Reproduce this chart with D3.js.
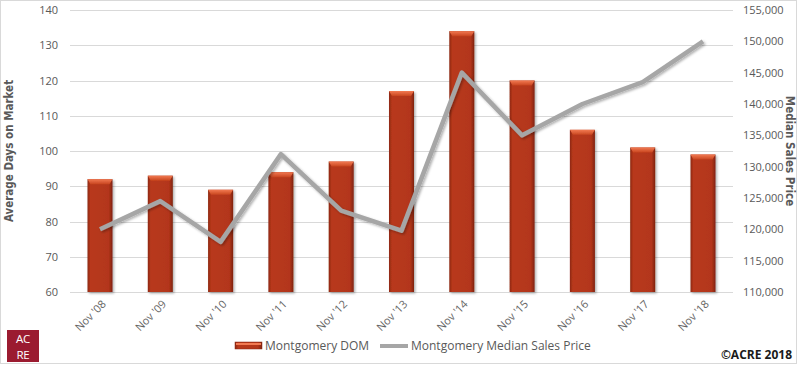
<!DOCTYPE html>
<html>
<head>
<meta charset="utf-8">
<script src="https://cdnjs.cloudflare.com/ajax/libs/d3/7.8.5/d3.min.js"></script>
<style>
  body { margin: 0; background: #fff; }
  svg { display: block; font-family: "Open Sans", "Noto Sans", sans-serif; }
</style>
</head>
<body>
<svg width="799" height="366"></svg>
<script>
// data
var years = ["Nov '08", "Nov '09", "Nov '10", "Nov '11", "Nov '12", "Nov '13", "Nov '14", "Nov '15", "Nov '16", "Nov '17", "Nov '18"];
var dom = [92, 93, 89, 94, 97, 117, 134, 120, 106, 101, 99];
var price = [120000, 124500, 118000, 132000, 123000, 119800, 145000, 135000, 140000, 143500, 150000];
var leftTicks = [60, 70, 80, 90, 100, 110, 120, 130, 140];
var rightTicks = [110000, 115000, 120000, 125000, 130000, 135000, 140000, 145000, 150000, 155000];

var svg = d3.select("svg"),
    width = +svg.attr("width"),
    height = +svg.attr("height");

var plot = {left: 70, right: 733, top: 10, bottom: 292};

var x = d3.scaleBand().domain(years).range([plot.left, plot.right]).paddingInner(0.585).paddingOuter(0.29);
var yL = d3.scaleLinear().domain([60, 140]).range([plot.bottom, plot.top]);
var yR = d3.scaleLinear().domain([110000, 155000]).range([plot.bottom, plot.top]);

var defs = svg.append("defs");
var body = defs.append("linearGradient").attr("id", "barBody").attr("x1", 0).attr("x2", 1).attr("y1", 0).attr("y2", 0);
body.append("stop").attr("offset", "0%").attr("stop-color", "#8c2710");
body.append("stop").attr("offset", "12%").attr("stop-color", "#b8391b");
body.append("stop").attr("offset", "85%").attr("stop-color", "#b3361a");
body.append("stop").attr("offset", "100%").attr("stop-color", "#7f230f");
var cap = defs.append("linearGradient").attr("id", "barCap").attr("x1", 0).attr("x2", 0).attr("y1", 0).attr("y2", 1);
cap.append("stop").attr("offset", "0%").attr("stop-color", "#f27a52");
cap.append("stop").attr("offset", "100%").attr("stop-color", "#c8451f");
var sh = defs.append("filter").attr("id", "shadow").attr("x", "-20%").attr("y", "-20%").attr("width", "150%").attr("height", "150%");
sh.append("feDropShadow").attr("dx", 1.5).attr("dy", 1.5).attr("stdDeviation", 1.2).attr("flood-color", "#000").attr("flood-opacity", 0.3);

// outer border
svg.append("rect").attr("x", 0.5).attr("y", 0.5).attr("width", 796).attr("height", 363)
    .attr("fill", "none").attr("stroke", "#d9d9d9");

// gridlines
svg.append("g").selectAll("line").data(leftTicks).enter().append("line")
    .attr("x1", plot.left).attr("x2", plot.right)
    .attr("y1", function(d) { return Math.round(yL(d)) + 0.5; })
    .attr("y2", function(d) { return Math.round(yL(d)) + 0.5; })
    .attr("stroke", "#d9d9d9");

// left axis
var axL = svg.append("g").attr("transform", "translate(" + (plot.left - 12) + ",0)")
    .call(d3.axisLeft(yL).tickValues(leftTicks).tickSize(0).tickPadding(0));
axL.select(".domain").remove();
axL.selectAll("text").attr("fill", "#595959").style("font-size", "11px").style("font-family", "'Open Sans', sans-serif");

// right axis
var axR = svg.append("g").attr("transform", "translate(" + (plot.right + 10) + ",0)")
    .call(d3.axisRight(yR).tickValues(rightTicks).tickSize(0).tickPadding(0).tickFormat(d3.format(",")));
axR.select(".domain").remove();
axR.selectAll("text").attr("fill", "#595959").style("font-size", "11px").style("font-family", "'Open Sans', sans-serif");

// bars
var bars = svg.append("g").selectAll("g").data(dom).enter().append("g")
    .attr("filter", "url(#shadow)");
bars.append("rect")
    .attr("x", function(d, i) { return x(years[i]); })
    .attr("y", function(d) { return yL(d); })
    .attr("width", x.bandwidth())
    .attr("height", function(d) { return plot.bottom - yL(d); })
    .attr("fill", "url(#barBody)");
bars.append("path")
    .attr("d", function(d, i) {
        var x0 = x(years[i]), w = x.bandwidth(), t = yL(d);
        return "M" + x0 + "," + t + "H" + (x0 + w) + "L" + (x0 + w - 3) + "," + (t + 5) + "H" + (x0 + 3) + "Z";
    })
    .attr("fill", "url(#barCap)");

// line
var line = d3.line()
    .x(function(d, i) { return x(years[i]) + x.bandwidth() / 2; })
    .y(function(d) { return yR(d); });
svg.append("path").datum(price)
    .attr("d", line)
    .attr("fill", "none")
    .attr("stroke", "#a6a6a6")
    .attr("stroke-width", 4.5)
    .attr("stroke-linejoin", "round")
    .attr("filter", "url(#shadow)");

// x labels
svg.append("g").selectAll("text").data(years).enter().append("text")
    .attr("transform", function(d) { return "translate(" + (x(d) + x.bandwidth() / 2 + 4) + "," + (plot.bottom + 10) + ") rotate(-45)"; })
    .attr("text-anchor", "end")
    .attr("dy", "0.35em")
    .attr("fill", "#666")
    .style("font-size", "11px")
    .text(function(d) { return d; });

// axis titles
svg.append("text")
    .attr("transform", "translate(13," + ((plot.top + plot.bottom) / 2) + ") rotate(-90)")
    .attr("text-anchor", "middle")
    .attr("fill", "#595959")
    .style("font-family", "'DejaVu Sans Condensed', 'Liberation Sans Narrow', sans-serif")
    .style("font-weight", "bold").style("font-size", "11.5px")
    .text("Average Days on Market");
svg.append("text")
    .attr("transform", "translate(786," + ((plot.top + plot.bottom) / 2) + ") rotate(90)")
    .attr("text-anchor", "middle")
    .attr("fill", "#595959")
    .style("font-family", "'DejaVu Sans Condensed', 'Liberation Sans Narrow', sans-serif")
    .style("font-weight", "bold").style("font-size", "11.5px")
    .text("Median Sales Price");

// legend
var leg = svg.append("g");
leg.append("rect").attr("x", 235).attr("y", 342).attr("width", 27).attr("height", 7)
    .attr("fill", "url(#barBody)").attr("stroke", "#8c2710").attr("stroke-width", 0.5);
leg.append("rect").attr("x", 236).attr("y", 343).attr("width", 25).attr("height", 2).attr("fill", "#f27a52");
leg.append("text").attr("x", 265).attr("y", 346).attr("dy", "0.35em")
    .attr("fill", "#595959").style("font-size", "12px").text("Montgomery DOM");
leg.append("line").attr("x1", 380).attr("x2", 408).attr("y1", 346).attr("y2", 346)
    .attr("stroke", "#a6a6a6").attr("stroke-width", 4);
leg.append("text").attr("x", 411).attr("y", 346).attr("dy", "0.35em")
    .attr("fill", "#595959").style("font-size", "12px").text("Montgomery Median Sales Price");

// logo
svg.append("rect").attr("x", 7).attr("y", 330).attr("width", 32).attr("height", 32).attr("fill", "#9b1b30");
svg.append("text").attr("x", 23).attr("y", 342.5).attr("text-anchor", "middle").attr("fill", "#fff")
    .style("font-size", "11.5px").style("letter-spacing", "-0.3px").text("AC");
svg.append("text").attr("x", 23).attr("y", 358.5).attr("text-anchor", "middle").attr("fill", "#fff")
    .style("font-size", "11.5px").style("letter-spacing", "-0.3px").text("RE");

// copyright
svg.append("text").attr("x", 792).attr("y", 359).attr("text-anchor", "end")
    .attr("fill", "#1a1a1a").style("font-weight", "bold").style("font-size", "12px")
    .text("©ACRE 2018");
</script>
</body>
</html>
